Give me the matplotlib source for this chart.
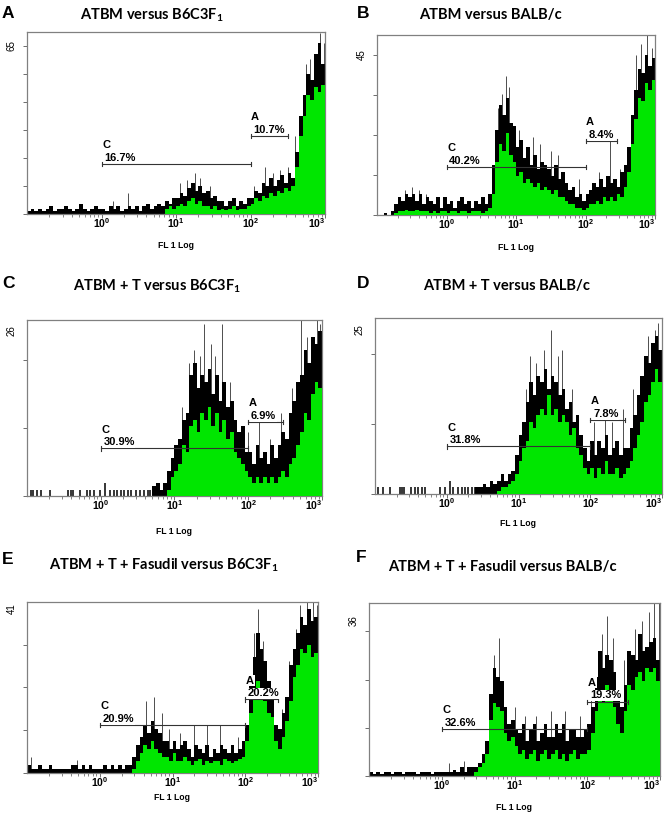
import numpy as np
import matplotlib.pyplot as plt
from matplotlib.ticker import LogLocator, NullFormatter
from matplotlib.transforms import blended_transform_factory

plt.rcParams['mathtext.fontset'] = 'custom'
plt.rcParams['mathtext.rm'] = 'Lato'
plt.rcParams['mathtext.bf'] = 'Lato:bold'
plt.rcParams['mathtext.sf'] = 'Liberation Sans:bold'

# ---- data ----
panel_letters = ['A', 'B', 'C', 'D', 'E', 'F']
titles = [r'ATBM versus B6C3F$_\mathbf{1}$',
          'ATBM versus BALB/c',
          r'ATBM + T versus B6C3F$_\mathbf{1}$',
          'ATBM + T versus BALB/c',
          r'ATBM + T + Fasudil versus B6C3F$_\mathbf{1}$',
          'ATBM + T + Fasudil versus BALB/c']
y_max_labels = [65, 45, 26, 25, 41, 36]
y_tops = [70.4, 50.6, 27.7, 26.8, 42.7, 40.1]
y_ticks = [[0, 10.8, 21.7, 32.5, 43.3, 54.2, 65],
           [0, 11.25, 22.5, 33.75, 45],
           [0, 10.7, 21.4],
           [0, 10.7, 21.3],
           [0, 10.7, 21.4, 32],
           [0, 11.2, 22.3, 33.6]]
c_pct = ['16.7%', '40.2%', '30.9%', '31.8%', '20.9%', '32.6%']
a_pct = ['10.7%', '8.4%', '6.9%', '7.8%', '20.2%', '19.3%']
a_gate_end = [316, 282, 295, 309, 282, 363]

# 80 log channels from 10^-1 to 10^3; hi = top of black noise band, lo = top of green fill
hi_a = [1, 2, 1, 2, 1, 2, 3, 1, 2, 2, 3, 2, 1, 2, 4, 2, 1, 2, 3, 2,
        2, 1, 3, 2, 3, 1, 2, 3, 2, 3, 1, 3, 4, 2, 3, 4,
        3, 5, 4, 6,
        6, 8, 7, 10, 12, 9, 11, 8, 9, 6, 7, 5,
        5, 3, 5, 6, 3, 5, 4, 6,
        6, 9, 8, 12, 11, 14, 11, 13, 15, 12, 16, 14,
        24, 38, 46, 54, 52, 62, 66, 58]
lo_a = [0] * 37 + [2, 3, 2,
        3, 4, 3, 5, 6, 4, 5, 3,
        3, 2, 3, 1.5, 2, 1.5, 2, 3, 1.5, 2, 2, 3,
        4, 6, 5, 7, 6, 8, 7, 9, 8, 10, 9, 11,
        18, 30, 38, 46, 44, 49, 47, 50]
spk_x_a = [2.3, 14, 18, 21, 158, 400, 794, 870,
           1.41, 0.5, 11.2, 28.2, 112, 200, 251, 316, 562, 631, 955]
spk_y_a = [8, 13, 16, 14, 18, 30, 66, 70,
           5, 4, 12, 11, 11, 16, 17, 18, 58, 60, 66]

hi_b = [0, 0, 0.5, 0, 1,
        3, 5, 4, 6, 5,
        6, 4, 6, 3, 5, 4,
        3, 5, 2, 5, 3, 4, 2, 4, 5, 3,
        4, 2, 4, 3, 5, 3, 6,
        14,
        24, 31, 28, 33, 26,
        25, 19, 21, 16, 19,
        14, 17, 13, 15, 14,
        13, 11, 14, 10, 12,
        9, 7, 8, 5, 6, 4, 6, 7, 9,
        8, 10, 8, 11, 9, 10, 8, 12,
        14, 19, 28, 35, 41, 40, 45, 42, 44]
lo_b = [0, 0, 0, 0, 0,
        0.5, 1, 1, 1.5, 1, 1, 1.5, 1, 1, 1, 0.5, 1, 0.5, 1, 1,
        0.5, 1, 1, 0.5, 1, 1, 0.5, 1, 1, 1, 0.5, 1, 2,
        6,
        15, 20, 18, 23, 17,
        15, 11, 12, 9, 10,
        9, 8, 9, 7, 8,
        7, 6, 7, 5, 5,
        4, 3, 3, 2, 2, 1.5, 2, 3, 3,
        4, 3, 5, 4, 5, 4, 6, 5,
        8, 12, 20, 27, 33, 32, 37, 35, 38]
spk_x_b = [0.32, 0.4, 7.1, 7.9, 17.8, 31.6, 224, 525, 759,
           0.25, 0.5, 5.6, 6.3, 11.2, 22.4, 39.8, 79.4, 158, 316, 631, 891]
spk_y_b = [8, 7, 39, 36, 22, 18, 21, 45, 50.6,
           7, 6, 30, 34, 24, 20, 17, 10, 12, 13, 48, 47]

hi_c = [0] * 34 + [1.5, 2, 1, 2,
        4, 6, 8, 9, 12, 13,
        19, 21, 17, 19,
        18, 20, 16, 19, 15, 18, 14, 15,
        12, 10, 11, 7,
        7, 5, 8, 6, 7, 5, 8, 6,
        8, 10, 9, 13, 15, 18,
        19, 23, 21, 25, 24, 26]
lo_c = [0] * 38 + [1, 3, 4, 5, 8, 7,
        11, 12, 10, 13,
        12, 14, 11, 13, 10, 12, 9, 10,
        7, 6, 5, 4,
        3, 2, 3, 2, 3, 2, 3, 2,
        3, 4, 3, 5, 6, 8,
        10, 13, 12, 16, 18, 17]
spk_x_c = [18.6, 25.1, 31.6, 44.7, 141, 282, 525, 851,
           12.6, 15.8, 22.4, 35.5, 56.2, 100, 200, 398, 631, 933]
spk_y_c = [23, 27, 24, 27, 12, 13, 27.7, 27.7,
           14, 21, 22, 22, 18, 10, 9, 17, 25, 27]
# isolated single events below 10^0.7
evt_x_c = [0.115, 0.12, 0.135, 0.156, 0.203, 0.36, 0.39, 0.42, 0.52, 0.65, 0.72,
           0.81, 0.98, 1.13, 1.32, 1.5, 1.66, 1.86, 2.05, 2.35, 2.61, 3.03,
           3.39, 3.83, 4.37, 4.7]
evt_y_c = [1, 1, 1, 1, 1, 1, 1, 1, 1, 1, 1,
           1, 1, 2, 1, 1, 1, 1, 1, 1, 1, 1,
           1, 1, 1, 1]

hi_d = [0] * 28 + [1, 1, 1.5, 1,
        2, 1.5, 2, 3, 2, 3, 3.5,
        6, 9, 11,
        14, 17, 15, 18,
        17, 19, 16, 18, 17, 15, 16,
        13, 14, 11, 12, 9,
        7, 5, 8, 6, 8, 7, 9, 6, 7, 8, 6, 7,
        7, 10, 12, 15,
        18, 21, 20, 23, 24, 22]
lo_d = [0] * 34 + [0.5, 1, 1, 1.5, 2,
        3, 5, 7,
        8, 11, 10, 12,
        13, 12, 15, 12, 13, 11, 12,
        11, 9, 10, 7, 6,
        4, 3, 4, 2.5, 4, 3, 5, 3, 3, 4, 2.5, 3,
        4, 5, 7, 9,
        11, 14, 15, 17, 19, 17]
spk_x_d = [14.5, 22.4, 28.2, 39.8, 158, 282, 891,
           12.6, 17.8, 35.5, 56.2, 112, 200, 398, 631, 794]
spk_y_d = [21, 22, 25, 22, 12, 13, 26,
           16, 20, 21, 16, 11, 11, 16, 24, 25]
evt_x_d = [0.11, 0.13, 0.16, 0.22, 0.24, 0.25, 0.32, 0.36, 0.4, 0.45, 0.5,
           0.81, 0.96, 1.12, 1.24, 1.45, 1.62, 1.8, 2.0, 2.24, 2.5]
evt_y_d = [1, 1, 1, 1, 1, 1, 1, 1, 1, 1, 1,
           1, 1, 2, 1, 1, 1, 1, 1, 1, 1]

hi_e = [2, 1, 1, 2, 1, 1, 2, 1, 1, 1, 1, 1, 2, 2, 1, 2, 1, 2, 1, 1,
        1, 2, 1, 2, 1, 2, 1, 2, 2, 4, 7,
        9, 12, 10, 13, 11, 10, 8,
        8, 6, 8, 6, 7, 8,
        6, 4, 7, 6, 5, 7, 4, 6, 5, 7, 6, 5, 7, 5, 6, 8,
        12, 22, 29, 35, 31, 28, 23, 20, 12, 11, 15,
        19, 27, 31, 35, 39, 37, 41, 38, 39]
lo_e = [0] * 29 + [1, 3,
        5, 7, 6, 8, 6, 5, 4,
        4, 3, 5, 3, 3, 4,
        3, 2, 3, 3.5, 2, 3, 2.5, 3, 3, 2, 3.5, 3, 2.5, 3, 3.5, 4,
        8, 15, 19, 23, 21, 18, 15, 14, 8, 6, 9,
        13, 18, 24, 27, 31, 30, 32, 29, 30]
spk_x_e = [0.112, 0.49, 4.27, 5.62, 7.08, 20, 30.2, 44.7, 132, 148, 316, 708, 851,
           3.55, 8.9, 12.6, 79.4, 112, 178, 398, 501, 562, 955]
spk_y_e = [4, 3.3, 18, 19, 15, 12, 12, 12, 35, 41, 16, 42.7, 42.7,
           9, 11, 10, 9, 20, 33, 28, 36, 42, 42]

hi_f = [1, 0.5, 1, 0.5, 1, 1, 0.5, 1, 1, 0.5, 1, 1, 1, 0.5, 1, 1, 1, 0.5, 1, 1,
        1, 1, 1, 1.5, 1, 2, 1, 2, 2, 2, 3, 5, 8,
        19, 25, 23, 22, 16, 12, 13, 11,
        10, 12, 8, 11, 12, 8, 10, 12, 9, 9, 12, 10, 12, 8, 11, 11, 9, 9, 11, 12, 16,
        23, 29, 25, 28, 27, 24, 18, 16,
        21, 29, 28, 27, 33, 29, 30, 31, 32, 27]
lo_f = [0] * 29 + [1, 2, 3, 5,
        13, 17, 16, 15, 10, 8, 9, 7,
        5, 6, 4, 5, 6, 3.5, 5, 6, 4, 5, 6, 4, 5, 3.5, 5, 6, 4, 5, 5, 6, 10,
        15, 19, 17, 21, 18, 16, 12, 10,
        15, 21, 20, 23, 24, 22, 25, 24, 25, 22]
spk_x_f = [5.25, 6.03, 20, 31.6, 79.4, 158, 186, 708, 832, 955,
           1.26, 2.0, 4.47, 10, 14.1, 50.1, 112, 224, 316, 447, 562]
spk_y_f = [28, 32, 14, 15, 14, 33, 37, 38, 40, 40,
           3, 3.5, 18, 16, 14, 15, 20, 32, 27, 34, 36]

hi_all = [hi_a, hi_b, hi_c, hi_d, hi_e, hi_f]
lo_all = [lo_a, lo_b, lo_c, lo_d, lo_e, lo_f]
spk_x_all = [spk_x_a, spk_x_b, spk_x_c, spk_x_d, spk_x_e, spk_x_f]
spk_y_all = [spk_y_a, spk_y_b, spk_y_c, spk_y_d, spk_y_e, spk_y_f]
evt_x_all = [[], [], evt_x_c, evt_x_d, [], []]
evt_y_all = [[], [], evt_y_c, evt_y_d, [], []]

edges = np.logspace(-1, 3, 81)

# ---- layout (pixels in a 665 x 814 figure) ----
W, H = 665, 814
axes_px = [(27, 325, 32, 214), (377, 655, 35, 215),
           (27, 322, 320, 496), (375, 662, 318, 494),
           (27, 318, 602, 773), (369, 660, 603, 776)]
letter_px = [(2, 13), (357, 13), (2, 284), (357, 284), (2, 559), (356, 558)]
title_px = [(152, 15), (490, 15), (157, 286), (507, 286), (164, 565), (502, 567)]
xlabel_off = [31, 33, 35, 29, 24, 31]
c_frac = [0.275, 0.267, 0.27, 0.27, 0.28, 0.27]
a_frac = [0.43, 0.41, 0.42, 0.42, 0.43, 0.43]

green = '#00e600'
frame = '#808080'
small = dict(fontweight='bold', family='Liberation Sans')
white_box = dict(facecolor='white', edgecolor='none', pad=0.4)

fig = plt.figure(figsize=(W / 100, H / 100), dpi=100)

for k in range(6):
    l, r, t, b = axes_px[k]
    ax = fig.add_axes([l / W, 1 - b / H, (r - l) / W, (b - t) / H])

    ax.vlines(spk_x_all[k], 0, spk_y_all[k], color='#4d4d4d', lw=0.7, zorder=1)
    ax.vlines(evt_x_all[k], 0, evt_y_all[k], color='black', lw=1.1, zorder=2)
    ax.stairs(hi_all[k], edges, fill=True, color='black', lw=0, zorder=2)
    ax.stairs(lo_all[k], edges, fill=True, color=green, lw=0, zorder=3)

    ax.set_xscale('log')
    ax.set_xlim(0.1, 1000)
    ax.set_ylim(0, y_tops[k])
    ax.set_xticks([1, 10, 100, 1000])
    ax.set_xticklabels([r'$\mathsf{10^{0}}$', r'$\mathsf{10^{1}}$',
                        r'$\mathsf{10^{2}}$', r'$\mathsf{10^{3}}$'])
    ax.get_xticklabels()[-1].set_ha('right')
    ax.xaxis.set_minor_locator(LogLocator(base=10, subs=np.arange(2, 10)))
    ax.xaxis.set_minor_formatter(NullFormatter())
    ax.set_yticks(y_ticks[k])
    ax.set_yticklabels([])
    ax.tick_params(axis='x', which='major', length=3, width=0.6, color='#555555',
                   labelsize=7.5, pad=-1.5)
    ax.tick_params(axis='x', which='minor', length=2, width=0.5, color='#555555')
    ax.tick_params(axis='y', length=3, width=0.6, color='#555555')
    for s in ax.spines.values():
        s.set_color(frame)
        s.set_linewidth(0.9)

    ax.annotate(str(y_max_labels[k]), xy=(0, y_max_labels[k]),
                xycoords=blended_transform_factory(ax.transAxes, ax.transData),
                xytext=(-11, 0), textcoords='offset points', rotation=90,
                ha='center', va='center', fontsize=7, family='Liberation Sans')
    ax.annotate('FL 1 Log', xy=(0.5, 0), xycoords='axes fraction',
                xytext=(0, -xlabel_off[k] * 0.72), textcoords='offset points',
                ha='center', va='center', fontsize=6.2, **small)

    # gates C (10^0 - 10^2) and A (10^2 - end)
    trans = blended_transform_factory(ax.transData, ax.transAxes)
    for x0, x1, yf, name, pct in [(1, 100, c_frac[k], 'C', c_pct[k]),
                                  (100, a_gate_end[k], a_frac[k], 'A', a_pct[k])]:
        ax.plot([x0, x1], [yf, yf], transform=trans, color='#333333', lw=0.8, zorder=4)
        for xe in (x0, x1):
            ax.plot([xe, xe], [yf - 0.012, yf + 0.012], transform=trans,
                    color='#333333', lw=0.8, zorder=4)
        ax.annotate(name, xy=(x0, yf), xycoords=trans, xytext=(0.5, 10),
                    textcoords='offset points', ha='left', va='bottom',
                    fontsize=8, zorder=5, bbox=white_box, **small)
        ax.annotate(pct, xy=(x0, yf), xycoords=trans, xytext=(2, 0.8),
                    textcoords='offset points', ha='left', va='bottom',
                    fontsize=8, zorder=5, bbox=white_box, **small)

    fig.text(letter_px[k][0] / W, 1 - letter_px[k][1] / H, panel_letters[k],
             ha='left', va='center', fontsize=12.5, **small)
    fig.text(title_px[k][0] / W, 1 - title_px[k][1] / H, titles[k],
             ha='center', va='center', fontsize=10.5, fontweight='bold', family='Lato')

fig.savefig('out.png', dpi=100)
